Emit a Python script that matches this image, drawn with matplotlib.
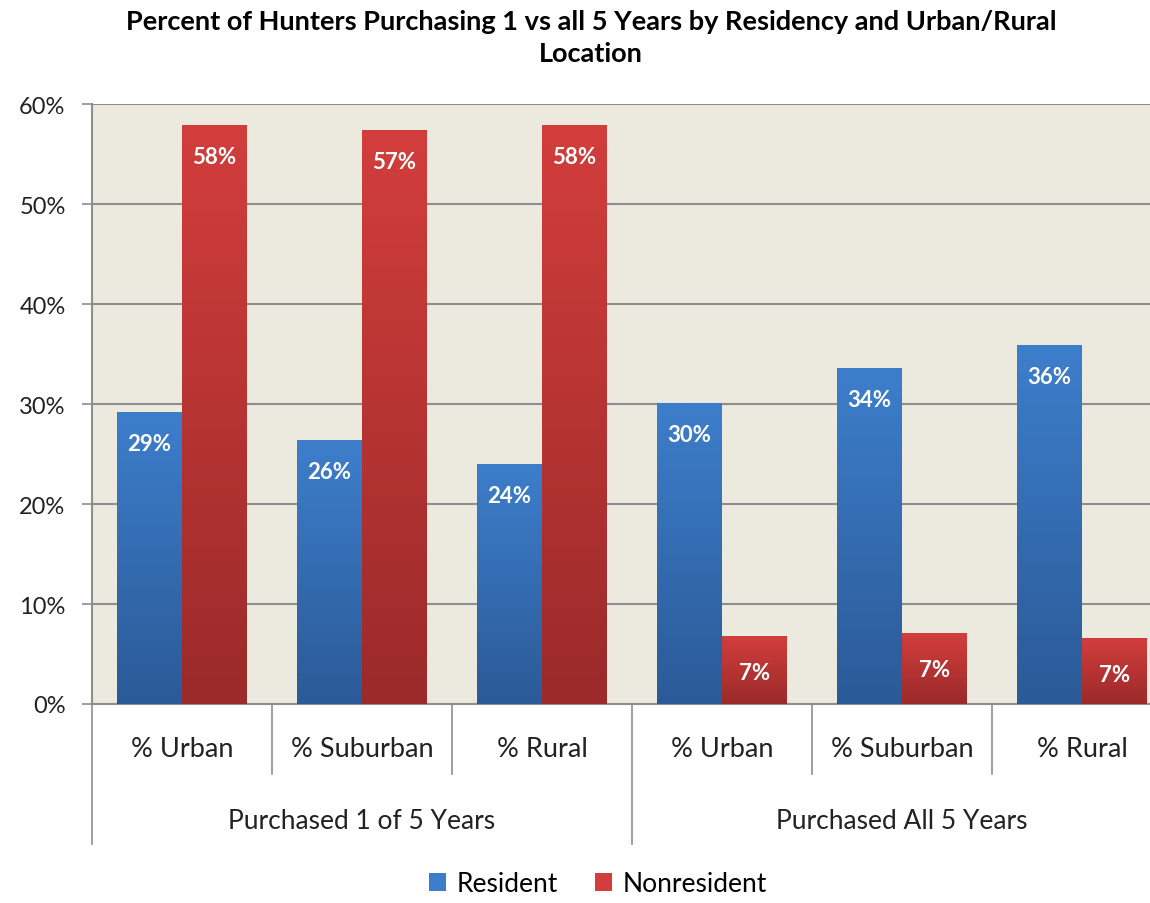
import matplotlib.pyplot as plt
import numpy as np
from matplotlib.colors import LinearSegmentedColormap
from matplotlib.patches import Patch
import matplotlib.transforms as mtransforms

plt.rcParams['font.family'] = ['Lato', 'DejaVu Sans']

# Data
groups = ["Purchased 1 of 5 Years", "Purchased All 5 Years"]
locations = ["% Urban", "% Suburban", "% Rural"]
resident = [29.2, 26.4, 24.0, 30.1, 33.6, 35.9]
nonresident = [57.9, 57.4, 57.9, 6.8, 7.1, 6.6]
yticks = [0, 10, 20, 30, 40, 50, 60]

blue_top, blue_bot = "#3d7ecb", "#2b5a97"
red_top, red_bot = "#d23e3c", "#9b2a2a"

fig = plt.figure(figsize=(11.5, 9.04), dpi=100)
ax = fig.add_axes([92 / 1150, 1 - 705 / 904, 1080 / 1150, 600 / 904])
ax.set_facecolor("#ecE9df")

n = len(resident)
x = np.arange(n) + 0.5
w = 65 / 180

def gradient_bars(xs, vals, top, bot):
    cmap = LinearSegmentedColormap.from_list("g", [bot, top])
    bars = ax.bar(xs, vals, width=w, color=top, zorder=2)
    grad = np.linspace(0, 1, 256).reshape(-1, 1)
    for b in bars:
        x0, y0 = b.get_x(), b.get_y()
        ax.imshow(grad, extent=[x0, x0 + b.get_width(), y0, y0 + b.get_height()],
                  origin="lower", cmap=cmap, aspect="auto", zorder=3)
    return bars

rb = gradient_bars(x - w / 2, resident, blue_top, blue_bot)
nb = gradient_bars(x + w / 2, nonresident, red_top, red_bot)

for bars, vals in ((rb, resident), (nb, nonresident)):
    for b, v in zip(bars, vals):
        off = -23 if v > 15 else -26
        ax.annotate(f"{round(v):.0f}%", (b.get_x() + b.get_width() / 2, v),
                    xytext=(0, off), textcoords="offset points",
                    ha="center", va="center", color="white",
                    fontsize=16, fontweight="bold", zorder=5)

ax.set_xlim(0, n)
ax.set_ylim(0, 60)
ax.set_yticks(yticks)
ax.set_yticklabels([f"{t}%" for t in yticks], fontsize=17, color="#222222")
ax.yaxis.grid(True, color="#8e8e8e", linewidth=1.5, zorder=1)
ax.set_axisbelow(True)
ax.tick_params(axis="y", length=7, width=1.2, color="#8e8e8e", pad=12)
ax.set_xticks(x)
ax.set_xticklabels(locations * 2, fontsize=19.5, color="#222222")
ax.tick_params(axis="x", length=0, pad=23)
for s in ["top", "right"]:
    ax.spines[s].set_visible(False)
for s in ["left", "bottom"]:
    ax.spines[s].set_color("#8e8e8e")
    ax.spines[s].set_linewidth(1.5)

# multi-level category separators
trans = mtransforms.blended_transform_factory(ax.transData, ax.transAxes)
for i in range(n + 1):
    depth = -140 / 600 if i % 3 == 0 else -70 / 600
    ax.plot([i, i], [0, depth], transform=trans, color="#8e8e8e",
            linewidth=1.2, clip_on=False)
for j, g in enumerate(groups):
    ax.text(j * 3 + 1.5, -117 / 600, g, transform=trans, ha="center",
            va="center", fontsize=19, color="#222222")

fig.text(591 / 1150, 1 - 38 / 904,
         "Percent of Hunters Purchasing 1 vs all 5 Years by Residency and Urban/Rural\nLocation",
         ha="center", va="center", fontsize=19.5, fontweight="bold", linespacing=1.4)

handles = [Patch(facecolor=blue_top, edgecolor="none"),
           Patch(facecolor=red_top, edgecolor="none")]
fig.legend(handles, ["Resident", "Nonresident"], loc="center",
           bbox_to_anchor=(598 / 1150, 1 - 885 / 904), ncol=2, frameon=False,
           fontsize=19, handlelength=0.65, handleheight=0.65, handletextpad=0.4,
           columnspacing=1.4)

fig.savefig("out.png", dpi=100)
